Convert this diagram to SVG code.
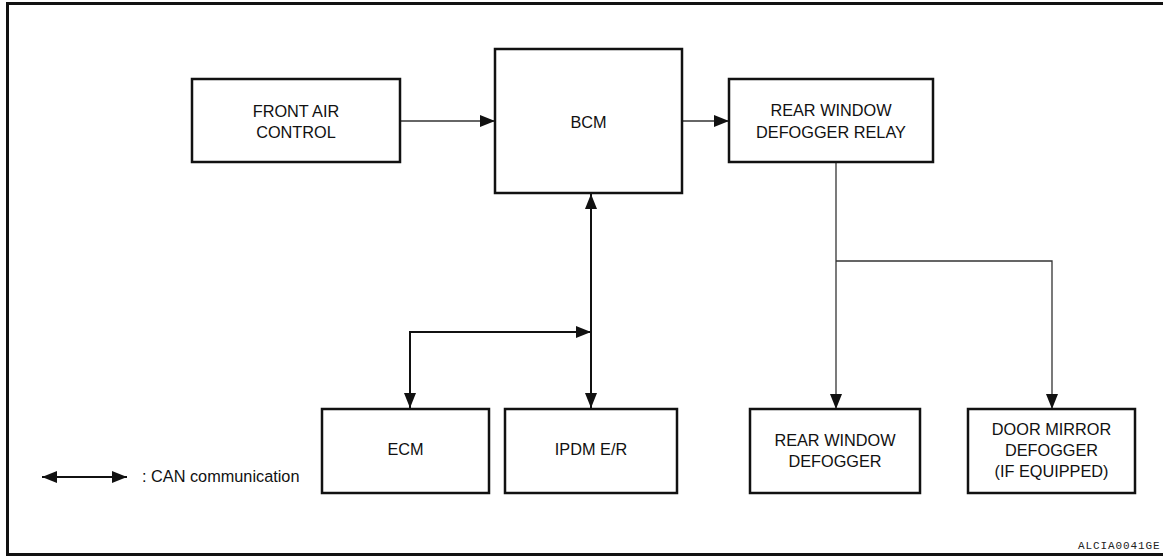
<svg xmlns="http://www.w3.org/2000/svg" width="1163" height="558" viewBox="0 0 1163 558">
  <style>
    .box { fill: #ffffff; stroke: #111111; stroke-width: 2.5; }
    .lbl { font-family: "Liberation Sans", Arial, Helvetica, sans-serif; font-size: 16.3px; fill: #111111; text-anchor: middle; }
    .thin { fill: none; stroke: #333333; stroke-width: 1.3; }
    .can { fill: none; stroke: #111111; stroke-width: 2; }
  </style>
  <defs>
    <marker id="ah" viewBox="0 0 15 12" refX="15" refY="6" markerWidth="15" markerHeight="12" markerUnits="userSpaceOnUse" orient="auto-start-reverse">
      <path d="M0,0 L15,6 L0,12 Z" fill="#111111"/>
    </marker>
  </defs>
  <rect width="1163" height="558" fill="#ffffff"/>
  <path d="M1170,3.5 L7.5,3.5 L7.5,554.5 L1170,554.5" fill="none" stroke="#111111" stroke-width="3"/>

  <g id="connectors">
    <line class="thin" x1="400" y1="121" x2="495" y2="121" marker-end="url(#ah)"/>
    <line class="thin" x1="682" y1="121" x2="729" y2="121" marker-end="url(#ah)"/>
    <line class="can" x1="591" y1="194" x2="591" y2="408" marker-start="url(#ah)" marker-end="url(#ah)"/>
    <polyline class="can" points="410,408 410,332 591,332" marker-start="url(#ah)" marker-end="url(#ah)"/>
    <line class="thin" x1="836" y1="162" x2="836" y2="409" marker-end="url(#ah)"/>
    <polyline class="thin" points="836,261 1052,261 1052,409" marker-end="url(#ah)"/>
  </g>

  <g id="front-air-control">
    <rect class="box" x="192" y="79" width="208" height="83"/>
    <text class="lbl" x="296" y="117">FRONT AIR</text>
    <text class="lbl" x="296" y="138">CONTROL</text>
  </g>
  <g id="bcm">
    <rect class="box" x="495" y="49" width="187" height="144"/>
    <text class="lbl" x="588.5" y="128">BCM</text>
  </g>
  <g id="rear-window-defogger-relay">
    <rect class="box" x="729" y="79" width="204" height="83"/>
    <text class="lbl" x="831" y="116">REAR WINDOW</text>
    <text class="lbl" x="831" y="138">DEFOGGER RELAY</text>
  </g>
  <g id="ecm">
    <rect class="box" x="322" y="409" width="167" height="84"/>
    <text class="lbl" x="405.5" y="455">ECM</text>
  </g>
  <g id="ipdm-er">
    <rect class="box" x="505" y="409" width="172" height="84"/>
    <text class="lbl" x="591" y="455">IPDM E/R</text>
  </g>
  <g id="rear-window-defogger">
    <rect class="box" x="750" y="409" width="170" height="84"/>
    <text class="lbl" x="835" y="446">REAR WINDOW</text>
    <text class="lbl" x="835" y="467">DEFOGGER</text>
  </g>
  <g id="door-mirror-defogger">
    <rect class="box" x="968" y="409" width="167" height="84"/>
    <text class="lbl" x="1051.5" y="435">DOOR MIRROR</text>
    <text class="lbl" x="1051.5" y="456">DEFOGGER</text>
    <text class="lbl" x="1051.5" y="477">(IF EQUIPPED)</text>
  </g>

  <g id="legend">
    <line class="can" x1="42" y1="477" x2="127" y2="477" marker-start="url(#ah)" marker-end="url(#ah)"/>
    <text class="lbl" x="142" y="482" style="text-anchor:start">: CAN communication</text>
  </g>
  <text x="1078" y="549" font-family="Liberation Mono, Courier New, monospace" font-size="11" letter-spacing="0.9" fill="#222222">ALCIA0041GE</text>
</svg>
